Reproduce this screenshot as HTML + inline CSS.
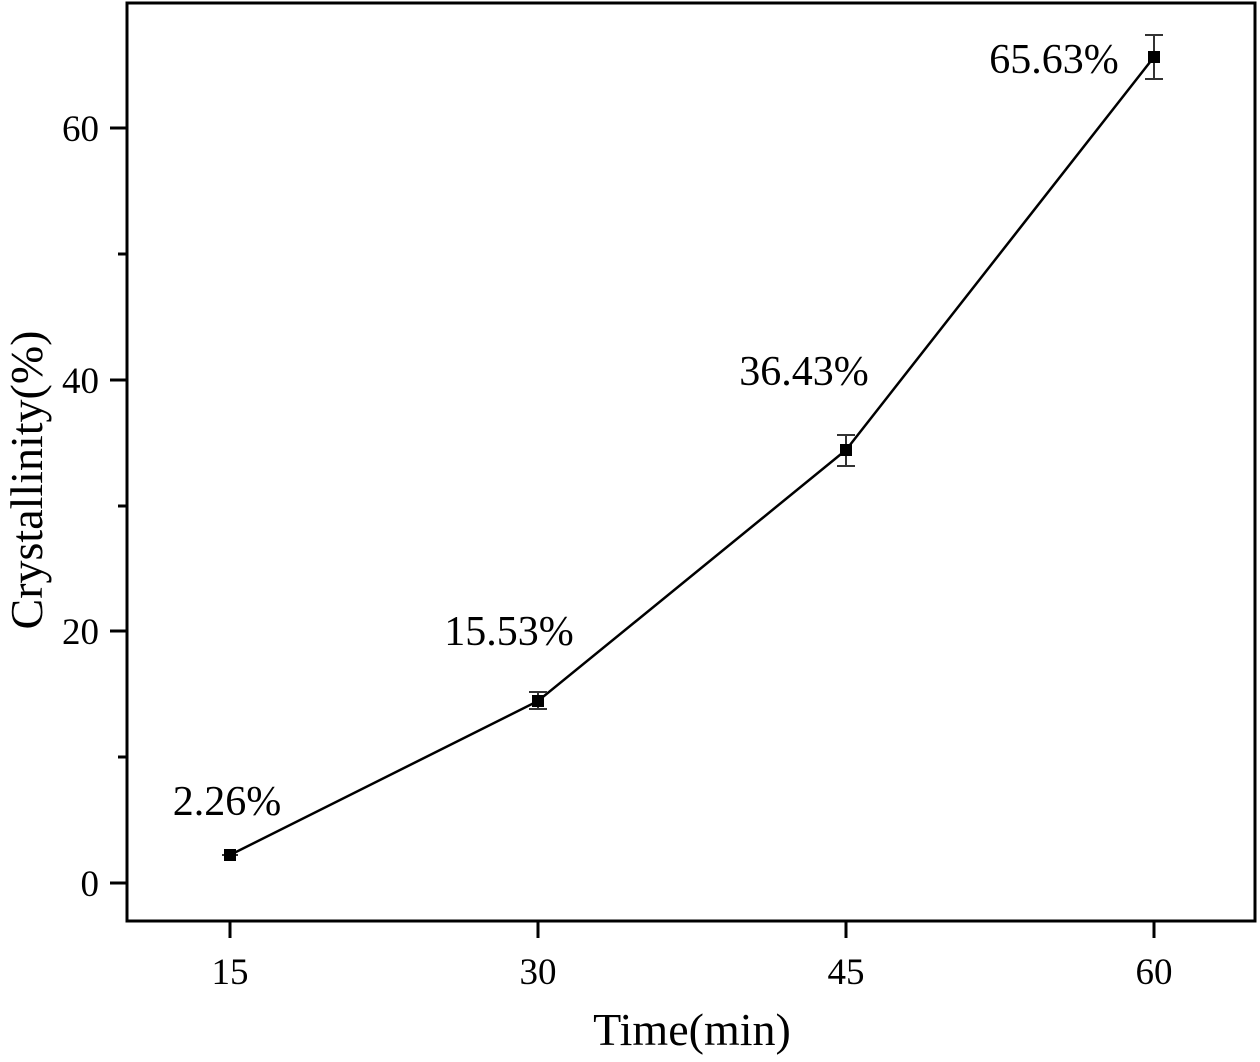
<!DOCTYPE html>
<html><head><style>body{margin:0;background:#fff}</style></head><body>
<svg width="1260" height="1057" xmlns="http://www.w3.org/2000/svg" font-family="Liberation Serif, serif">
<rect width="1260" height="1057" fill="#fff"/>
<rect x="127" y="3" width="1128" height="918" fill="none" stroke="#000" stroke-width="3"/>
<g stroke="#000" stroke-width="3">
<line x1="110" y1="883" x2="127" y2="883"/><line x1="110" y1="631" x2="127" y2="631"/>
<line x1="110" y1="380" x2="127" y2="380"/><line x1="110" y1="128" x2="127" y2="128"/>
<line x1="118" y1="757" x2="127" y2="757"/><line x1="118" y1="506" x2="127" y2="506"/>
<line x1="118" y1="254" x2="127" y2="254"/>
<line x1="230" y1="921" x2="230" y2="938"/><line x1="538" y1="921" x2="538" y2="938"/>
<line x1="846" y1="921" x2="846" y2="938"/><line x1="1154" y1="921" x2="1154" y2="938"/>
</g>
<g font-size="37" text-anchor="end">
<text x="99" y="896">0</text><text x="99" y="644">20</text><text x="99" y="393">40</text><text x="99" y="141">60</text>
</g>
<g font-size="37" text-anchor="middle">
<text x="230" y="984">15</text><text x="538" y="984">30</text><text x="846" y="984">45</text><text x="1154" y="984">60</text>
</g>
<text x="692" y="1045" font-size="46" text-anchor="middle">Time(min)</text>
<text transform="translate(42,480) rotate(-90)" font-size="46" text-anchor="middle">Crystallinity(%)</text>
<polyline points="230,855 538,701 846,450 1154,57" fill="none" stroke="#000" stroke-width="2.5"/>
<g stroke="#333" stroke-width="2">
<line x1="1154" y1="35" x2="1154" y2="79"/><line x1="1145" y1="35" x2="1163" y2="35"/><line x1="1145" y1="79" x2="1163" y2="79"/>
<line x1="846" y1="435" x2="846" y2="466"/><line x1="837" y1="435" x2="855" y2="435"/><line x1="837" y1="466" x2="855" y2="466"/>
<line x1="538" y1="692" x2="538" y2="709"/><line x1="529" y1="692" x2="547" y2="692"/><line x1="529" y1="709" x2="547" y2="709"/>
<line x1="222" y1="855" x2="238" y2="855"/>
</g>
<g fill="#000">
<rect x="224" y="849" width="12" height="12"/><rect x="532" y="695" width="12" height="12"/>
<rect x="840" y="444" width="12" height="12"/><rect x="1148" y="51" width="12" height="12"/>
</g>
<g font-size="42" text-anchor="middle">
<text x="227" y="815">2.26%</text><text x="509" y="645">15.53%</text>
<text x="804" y="385">36.43%</text><text x="1054" y="73">65.63%</text>
</g>
</svg>
</body></html>
